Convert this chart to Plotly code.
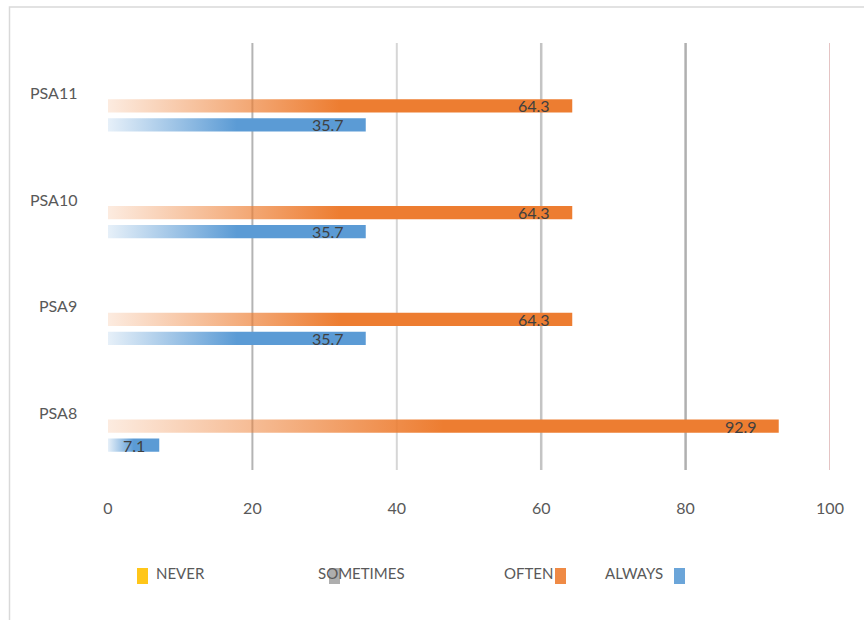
import plotly.graph_objects as go

# ---- data ----
categories = ["PSA8", "PSA9", "PSA10", "PSA11"]
series_names = ["NEVER", "SOMETIMES", "OFTEN", "ALWAYS"]
never = [0, 0, 0, 0]
sometimes = [0, 0, 0, 0]
often = [92.9, 64.3, 64.3, 64.3]
always = [7.1, 35.7, 35.7, 35.7]
x_ticks = [0, 20, 40, 60, 80, 100]

series_values = [never, sometimes, often, always]
series_rgb = [(255, 192, 0), (165, 165, 165), (237, 125, 49), (91, 155, 213)]

# ---- layout geometry (pixels) ----
W, H = 864, 620
L, R, T, B = 108, 34, 43, 150
PW, PH = W - L - R, H - T - B


def px_x(p):
    return (p - L) / PW


def px_y(p):
    return (H - B - p) / PH


SLOT = 0.178      # distance between bars inside one category group
HALF = 0.062      # half bar thickness (category units)
FONT = "Lato"

fig = go.Figure()

# bars drawn as filled rectangles with a horizontal gradient fill
for j, (name, vals, rgb) in enumerate(zip(series_names, series_values, series_rgb)):
    r, g, b = rgb
    offset = (1.5 - j) * SLOT
    for i, v in enumerate(vals):
        if v <= 0:
            continue
        yc = i + offset
        fig.add_trace(go.Scatter(
            x=[0, v, v, 0, 0],
            y=[yc - HALF, yc - HALF, yc + HALF, yc + HALF, yc - HALF],
            mode="lines",
            line=dict(width=0),
            fill="toself",
            fillgradient=dict(
                type="horizontal",
                colorscale=[[0, f"rgba({r},{g},{b},0.15)"],
                            [0.5, f"rgba({r},{g},{b},1)"],
                            [1, f"rgba({r},{g},{b},1)"]],
                start=0, stop=v,
            ),
            name=name, showlegend=False, hoverinfo="skip",
        ))
        fig.add_annotation(
            x=v, y=yc, text=f"{v:.1f}", showarrow=False,
            xanchor="right", xshift=-12 if v < 10 else -20,
            font=dict(family=FONT, size=16, color="#404040"),
        )

# category labels, sitting slightly above the group centre
for i, cat in enumerate(categories):
    fig.add_annotation(xref="paper", yref="y", x=px_x(79), y=i, yshift=4,
                       text=cat, showarrow=False, xanchor="right", yanchor="middle",
                       font=dict(family=FONT, size=16, color="#595959"))

# vertical gridlines
grid_styles = {
    20: ("#b4b4b4", 2),
    40: ("#d6d6d6", 2),
    60: ("#c4c4c4", 2.5),
    80: ("#b0b0b0", 2.5),
    100: ("#dcb0b0", 1.5),
}
for t in x_ticks:
    if t in grid_styles:
        c, w = grid_styles[t]
        fig.add_shape(type="line", xref="x", yref="paper", x0=t, x1=t, y0=0, y1=1,
                      line=dict(color=c, width=w), layer="below")

# outer frame
fig.add_shape(type="rect", xref="paper", yref="paper",
              x0=px_x(9.5), x1=px_x(W + 20), y0=px_y(7), y1=px_y(H + 20),
              line=dict(color="#d9d9d9", width=1.5), layer="below")

# legend row
legend_items = [
    # name, text left px, marker left px
    ("NEVER", 154, 137),
    ("SOMETIMES", 316, 329),
    ("OFTEN", 502, 555),
    ("ALWAYS", 603, 674),
]
for (name, tx, mx), rgb in zip(legend_items, series_rgb):
    r, g, b = rgb
    fig.add_annotation(xref="paper", yref="paper", x=px_x(tx), y=px_y(573),
                       text=name, showarrow=False, xanchor="left", yanchor="middle",
                       font=dict(family=FONT, size=15, color="#595959"))
    fig.add_shape(type="rect", xref="paper", yref="paper",
                  x0=px_x(mx), x1=px_x(mx + 11), y0=px_y(568), y1=px_y(584),
                  fillcolor=f"rgba({r},{g},{b},0.9)", line=dict(width=0))

fig.update_layout(
    width=W, height=H,
    margin=dict(l=L, r=R, t=T, b=B, pad=0),
    paper_bgcolor="white", plot_bgcolor="white",
    showlegend=False,
    font=dict(family=FONT, size=16, color="#595959"),
    xaxis=dict(range=[0, 100], tickvals=x_ticks, showgrid=False, zeroline=False,
               showline=False, ticks="outside", ticklen=24,
               tickcolor="rgba(0,0,0,0)", fixedrange=True),
    yaxis=dict(range=[-0.5, 3.5], tickvals=list(range(len(categories))),
               showticklabels=False, showgrid=False, zeroline=False, showline=False,
               fixedrange=True),
)

fig.write_html("out.html")
